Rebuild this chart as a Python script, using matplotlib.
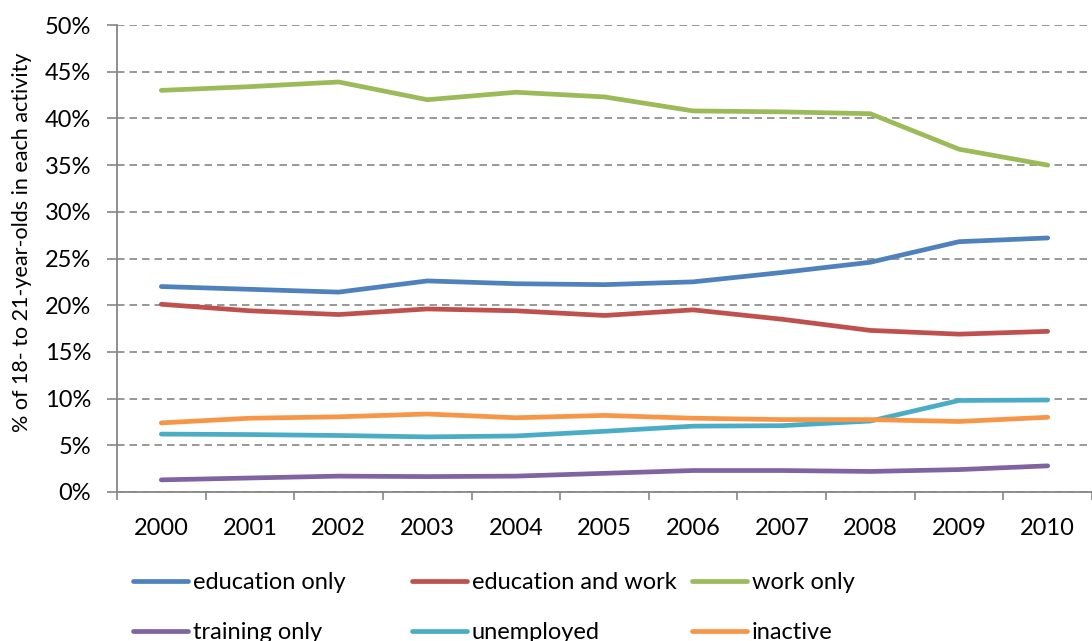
import matplotlib
matplotlib.use("Agg")
import matplotlib.pyplot as plt
from matplotlib.ticker import FixedLocator, PercentFormatter

plt.rcParams['font.family'] = ['Lato', 'DejaVu Sans']

# data (% of 18- to 21-year-olds)
years = ['2000', '2001', '2002', '2003', '2004', '2005', '2006', '2007', '2008', '2009', '2010']
education_only = [22.0, 21.7, 21.4, 22.6, 22.3, 22.2, 22.5, 23.5, 24.6, 26.8, 27.2]
education_and_work = [20.1, 19.4, 19.0, 19.6, 19.4, 18.9, 19.5, 18.5, 17.3, 16.9, 17.2]
work_only = [43.0, 43.4, 43.9, 42.0, 42.8, 42.3, 40.8, 40.7, 40.5, 36.7, 35.0]
training_only = [1.3, 1.5, 1.7, 1.65, 1.7, 2.0, 2.3, 2.3, 2.2, 2.4, 2.8]
unemployed = [6.2, 6.15, 6.05, 5.9, 6.0, 6.5, 7.05, 7.1, 7.6, 9.8, 9.85]
inactive = [7.4, 7.9, 8.05, 8.35, 7.95, 8.2, 7.9, 7.75, 7.75, 7.55, 8.0]

series = [
    ("education only", education_only, "#4F81BD"),
    ("education and work", education_and_work, "#C0504D"),
    ("work only", work_only, "#9BBB59"),
    ("training only", training_only, "#8064A2"),
    ("unemployed", unemployed, "#4BACC6"),
    ("inactive", inactive, "#F79646"),
]

FS = 17

fig = plt.figure(figsize=(10.92, 6.41), dpi=100)
ax = fig.add_axes([117 / 1092, 1 - 492 / 641, 975 / 1092, 467 / 641])

x = list(range(len(years)))
lines = {}
for name, vals, col in series:
    ln, = ax.plot(x, vals, color=col, lw=3.4, solid_capstyle='round', label=name)
    lines[name] = ln

grey = "#868686"
ax.set_xlim(-0.5, len(years) - 0.5)
ax.set_ylim(0, 50)
ax.set_yticks(range(0, 51, 5))
ax.yaxis.set_major_formatter(PercentFormatter(decimals=0))
ax.set_xticks(x)
ax.set_xticklabels(years)
ax.xaxis.set_minor_locator(FixedLocator([i - 0.5 for i in range(len(years) + 1)]))
ax.tick_params(axis='x', which='major', length=0, pad=19, labelsize=FS)
ax.tick_params(axis='x', which='minor', length=6, width=1.2, color=grey)
ax.tick_params(axis='y', length=7, width=1.2, color=grey, pad=11.5, labelsize=FS)

ax.grid(axis='y', color=grey, lw=1.2, linestyle=(0, (4.5, 3)))
ax.set_axisbelow(True)
for s in ['top', 'right']:
    ax.spines[s].set_visible(False)
for s in ['left', 'bottom']:
    ax.spines[s].set_color(grey)
    ax.spines[s].set_linewidth(1.3)

fig.text(22 / 1092, 1 - 242 / 641, "% of 18- to 21-year-olds in each activity",
         rotation=90, ha='center', va='center', fontsize=15.5)

# legend: three columns placed like the original
cols = [("education only", "training only"),
        ("education and work", "unemployed"),
        ("work only", "inactive")]
xpos = [133, 412, 692]
for names, xp in zip(cols, xpos):
    fig.legend([lines[n] for n in names], list(names), loc='upper left',
               bbox_to_anchor=(xp / 1092, 1 - 572 / 641), frameon=False,
               fontsize=FS, handlelength=2.33, handletextpad=0.2,
               labelspacing=1.24, borderaxespad=0, borderpad=0)

fig.savefig("out.png", dpi=100)
